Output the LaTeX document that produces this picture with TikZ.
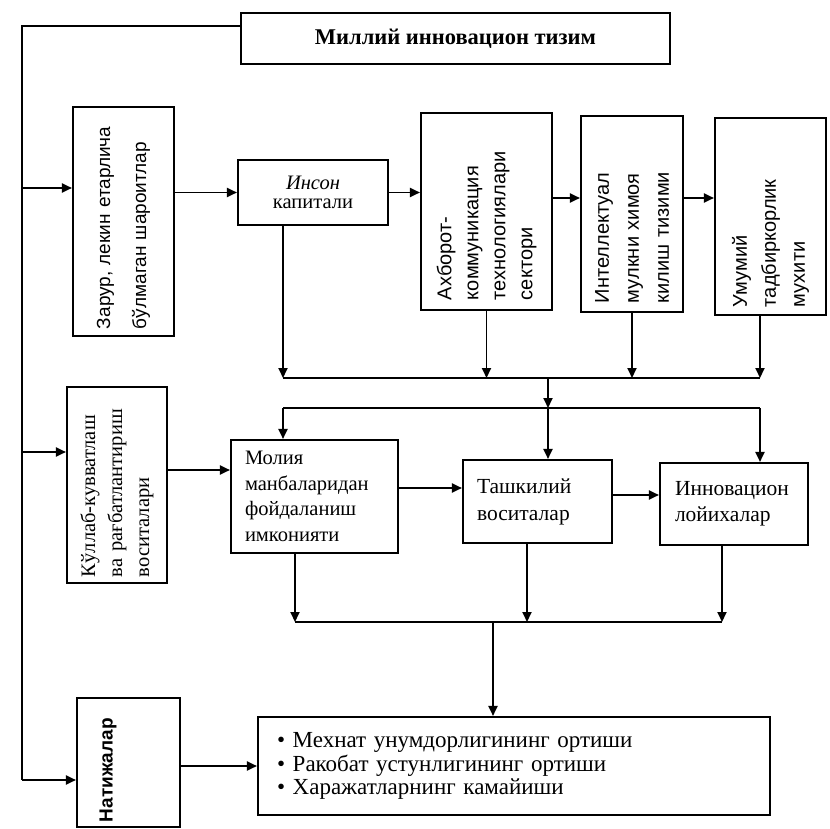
\documentclass[tikz,border=0pt]{standalone}
\usepackage{fontspec}
\setmainfont{Liberation Serif}
\newfontfamily\sansf{Liberation Sans}
\usetikzlibrary{arrows.meta}
\newcommand{\myfs}[2]{\fontsize{#1}{#2}\selectfont}
\begin{document}
\begin{tikzpicture}[x=1pt,y=-1pt,
  box/.style={draw, line width=2.1pt, inner ysep=0pt},
  arr/.style={line width=1.9pt, -{Triangle[length=10pt,width=9pt]}},
  ln/.style={line width=1.9pt}]
\useasboundingbox (0,0) rectangle (830,829);

% top
\node[box, minimum width=429pt, minimum height=51pt, font=\bfseries\myfs{22.5}{26}] (title) at (455.5,38.5) {Миллий инновацион тизим};

\node[box, rotate=90, minimum height=101pt, text width=215pt, inner xsep=7pt, align=left, font=\sansf\myfs{19}{36}] (zarur) at (123.5,221.5) {\mbox{Зарур, лекин етарлича}\\\mbox{бўлмаган шароитлар}};

\node[box, minimum width=150pt, minimum height=65pt, align=center, font=\myfs{20.5}{19}] (inson) at (313,192.5) {\itshape Инсон\\капитали};

\node[box, rotate=90, minimum height=131pt, text width=177pt, inner xsep=10pt, align=left, font=\sansf\myfs{20}{27}] (akhb) at (486.5,211.5) {Ахборот-\\коммуникация\\технологиялари\\сектори};

\node[box, rotate=90, minimum height=102pt, text width=178pt, inner xsep=9pt, align=left, font=\sansf\myfs{20}{30}] (intel) at (632,214) {Интеллектуал\\\mbox{мулкни химоя}\\\mbox{килиш тизими}};

\node[box, rotate=90, minimum height=111pt, text width=181pt, inner xsep=8pt, align=left, font=\sansf\myfs{20}{29}] (umum) at (770.5,216.5) {Умумий\\тадбиркорлик\\мухити};

% middle
\node[box, rotate=90, minimum height=100pt, text width=184pt, inner xsep=6pt, align=left, font=\myfs{20.5}{27}] (kullab) at (117,485) {\mbox{Кўллаб-кувватлаш}\\\mbox{ва рағбатлантириш}\\воситалари};

\node[box, minimum height=113pt, text width=139pt, inner xsep=14pt, align=left, font=\myfs{20.5}{25.5}] (molia) at (314.5,496.5) {Молия\\манбаларидан\\фойдаланиш\\имконияти};

\node[box, minimum height=83pt, text width=121pt, inner xsep=14pt, align=left, font=\myfs{21.5}{27}] (tash) at (537.5,501.5) {Ташкилий\\воситалар};

\node[box, minimum height=82pt, text width=118pt, inner xsep=15pt, align=left, font=\myfs{21.5}{26}] (innov) at (734,504) {Инновацион\\лойихалар};

% bottom
\node[box, rotate=90, minimum height=103pt, text width=119pt, inner xsep=5pt, align=left, font=\sansf\bfseries\myfs{19}{22}] (natij) at (128.5,762.5) {\raisebox{16pt}[0pt][0pt]{Натижалар}};

\node[box, minimum height=98pt, text width=474pt, inner xsep=19pt, align=left, font=\myfs{23}{23.5}] (res) at (514,766) {\textbullet\ Мехнат унумдорлигининг ортиши\\\textbullet\ Ракобат устунлигининг ортиши\\\textbullet\ Харажатларнинг камайиши};

% trunk
\coordinate (tTop) at (22,26);
\coordinate (tBot) at (22,780);
\coordinate (tZ) at (22,188);
\coordinate (tK) at (22,452);
\draw[ln] (title.west |- tTop) -- (tTop) -- (tBot);
\draw[arr] (tBot) -- (natij.north |- tBot);
\draw[arr] (tZ) -- (zarur.north |- tZ);
\draw[arr] (tK) -- (kullab.north |- tK);

% top row
\coordinate (row1) at (500,198);
\draw[arr] (zarur.south |- inson.west) -- (inson.west);
\draw[arr] (inson.east) -- (akhb.north |- inson.east);
\draw[arr] (akhb.south |- row1) -- (intel.north |- row1);
\draw[arr] (intel.south |- row1) -- (umum.north |- row1);

% collector
\coordinate (cL) at (283,378);
\coordinate (cR) at (760,378);
\coordinate (cM) at (548,378);
\draw[arr] (inson.south -| cL) -- (cL);
\draw[arr] (akhb.west) -- (akhb.west |- cL);
\draw[arr] (intel.west) -- (intel.west |- cL);
\draw[arr] (umum.west -| cR) -- (cR);
\draw[ln] (cL) -- (cR);

% distribution
\coordinate (dL) at (283,408);
\coordinate (dM) at (548,408);
\coordinate (dR) at (760,408);
\draw[arr] (cM) -- (dM);
\draw[ln] (dL) -- (dR);
\draw[arr] (dL) -- (molia.north -| dL);
\draw[arr] (dM) -- (tash.north -| dM);
\draw[arr] (dR) -- (innov.north -| dR);

% middle row
\coordinate (rowK) at (200,470);
\coordinate (rowM) at (430,488);
\coordinate (rowT) at (636,495);
\draw[arr] (kullab.south |- rowK) -- (molia.west |- rowK);
\draw[arr] (molia.east |- rowM) -- (tash.west |- rowM);
\draw[arr] (tash.east |- rowT) -- (innov.west |- rowT);

% bottom collector
\coordinate (bL) at (295,622);
\coordinate (bT) at (527,622);
\coordinate (bR) at (722,622);
\coordinate (bM) at (493,622);
\draw[arr] (molia.south -| bL) -- (bL);
\draw[arr] (tash.south -| bT) -- (bT);
\draw[arr] (innov.south -| bR) -- (bR);
\draw[ln] (bL) -- (bR);
\draw[arr] (bM) -- (res.north -| bM);
\draw[arr] (natij.south |- res.west) -- (res.west);
\end{tikzpicture}
\end{document}
